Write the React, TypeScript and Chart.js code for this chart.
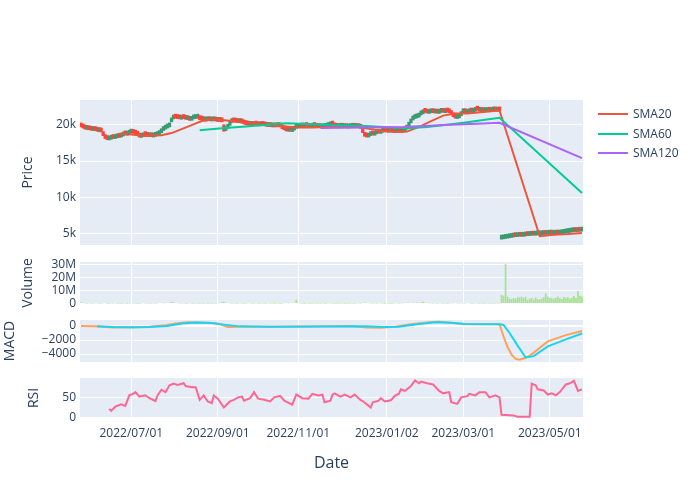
import React, { useEffect, useRef } from "react";
import { Chart, registerables } from "chart.js";
Chart.register(...registerables);

// ---------------- DATA ----------------
const N = 250;
const tickIdx = [25, 68, 108, 152, 190, 233];
const tickLabels = ["2022/07/01", "2022/09/01", "2022/11/01", "2023/01/02", "2023/03/01", "2023/05/01"];

const openP = [
  19850, 19700, 19550, 19350, 19450, 19300, 19200, 19350, 19250, 19050,
  19150, 19000, 18500, 18150, 17900, 18000, 18200, 18100, 18200, 18350,
  18300, 18450, 18700, 18550, 18700, 18850, 19050, 18850, 18700, 18550,
  18250, 18350, 18600, 18550, 18350, 18500, 18300, 18400, 18500, 18650,
  18900, 19200, 19400, 19550, 19700, 20400, 20800, 21050, 20950, 20900,
  20750, 20950, 20850, 20700, 20800, 20600, 20800, 20850, 20900, 21000,
  20750, 20700, 20500, 20550, 20750, 20500, 20550, 20700, 20450, 20600,
  20500, 20000, 19200, 19500, 19900, 20300, 20500, 20450, 20400, 20300,
  20450, 20250, 20150, 20050, 19900, 20050, 19850, 20050, 19950, 19850,
  20000, 19950, 19900, 19750, 19900, 19700, 19850, 19700, 19850, 19800,
  19700, 19500, 19350, 19100, 19250, 19050, 19250, 19500, 19600, 19650,
  19800, 19650, 19850, 19800, 19600, 19650, 19850, 19800, 19600, 19700,
  19550, 19600, 19650, 19750, 19850, 20050, 19950, 19750, 19600, 19650,
  19800, 19600, 19700, 19550, 19600, 19650, 19800, 19600, 19700, 19650,
  19450, 18900, 18500, 18300, 18500, 18700, 18550, 18750, 18950, 18800,
  18950, 19150, 19100, 18950, 19150, 19050, 18900, 18950, 19150, 19100,
  18950, 19150, 19400, 19800, 20250, 20650, 20850, 20950, 21050, 21350,
  21500, 22050, 21750, 21550, 21650, 21850, 21600, 21750, 21550, 21700,
  21850, 21650, 21850, 21800, 21700, 21450, 21150, 20850, 20950, 21250,
  21650, 21800, 21550, 21650, 21850, 21700, 21850, 22350, 22050, 21800,
  21950, 21800, 21800, 21950, 21800, 21900, 22050, 21850, 22000, 4250,
  4300, 4350, 4400, 4450, 4500, 4550, 4650, 4600, 4650, 4700,
  4650, 4700, 4800, 4750, 4800, 4850, 4800, 4850, 4900, 4850,
  4900, 4950, 4900, 4950, 5000, 4900, 4950, 5000, 4950, 5000,
  5050, 5100, 5150, 5200, 5250, 5300, 5400, 5300, 5400, 5350,
];

const closeP = [
  19700, 19550, 19400, 19450, 19300, 19250, 19350, 19200, 19100, 19150,
  19000, 18500, 18100, 17950, 18050, 18150, 18100, 18250, 18300, 18250,
  18500, 18650, 18600, 18750, 18900, 19050, 18800, 18700, 18550, 18300,
  18400, 18550, 18500, 18400, 18450, 18350, 18400, 18550, 18650, 18900,
  19200, 19400, 19600, 19750, 19950, 20850, 21000, 20900, 20850, 20800,
  20900, 20850, 20750, 20800, 20600, 20850, 20900, 20950, 21050, 20700,
  20650, 20550, 20600, 20700, 20550, 20600, 20650, 20500, 20600, 20450,
  20400, 19100, 19500, 19900, 20300, 20450, 20400, 20350, 20300, 20450,
  20250, 20100, 20000, 19950, 20050, 19900, 20000, 19950, 19850, 20000,
  19900, 19850, 19800, 19900, 19750, 19800, 19700, 19850, 19750, 19700,
  19450, 19300, 19150, 19250, 19100, 19200, 19500, 19650, 19700, 19750,
  19700, 19800, 19750, 19650, 19700, 19800, 19750, 19650, 19700, 19600,
  19650, 19700, 19750, 19900, 20000, 19950, 19700, 19650, 19700, 19750,
  19650, 19700, 19600, 19650, 19700, 19750, 19650, 19700, 19600, 19500,
  18900, 18400, 18300, 18550, 18650, 18600, 18800, 18900, 18850, 19000,
  19100, 19050, 19000, 19100, 19050, 18950, 19000, 19100, 19050, 19000,
  19150, 19400, 19800, 20300, 20700, 20900, 21000, 21100, 21400, 21600,
  22000, 21700, 21600, 21700, 21800, 21650, 21700, 21600, 21750, 21850,
  21700, 21800, 21750, 21650, 21400, 21100, 20900, 21000, 21300, 21700,
  21750, 21650, 21700, 21800, 21750, 21900, 22300, 22000, 21850, 21900,
  21800, 21950, 21900, 21850, 21950, 22000, 21900, 21950, 21900, 4300,
  4350, 4400, 4450, 4500, 4550, 4600, 4600, 4650, 4700, 4650,
  4700, 4750, 4750, 4800, 4850, 4800, 4850, 4900, 4850, 4900,
  4950, 4900, 4950, 5000, 4950, 4950, 5000, 4950, 5000, 5050,
  5100, 5150, 5200, 5250, 5300, 5350, 5300, 5400, 5350, 5400,
];

// volume in millions
const volumeM = [
  1.3, 0.6, 0.5, 0.4, 0.5, 0.3, 0.4, 0.6, 0.5, 0.4, 0.3, 0.5, 0.7, 0.4, 0.3, 0.5, 0.4, 0.6, 0.3, 0.4,
  0.3, 0.4, 0.5, 0.3, 0.4, 0.6, 0.5, 0.4, 0.3, 0.3, 0.5, 0.7, 0.4, 0.6, 0.3, 0.4, 0.5, 0.3, 0.6, 0.8,
  0.7, 0.5, 0.9, 0.8, 1.0, 1.6, 1.2, 0.8, 0.6, 0.5, 0.4, 0.5, 0.3, 0.4, 0.6, 0.4, 0.3, 0.5, 0.4, 0.3,
  0.4, 0.3, 0.5, 0.3, 0.4, 0.3, 0.5, 0.4, 0.6, 0.8, 1.3, 1.6, 0.9, 0.7, 0.5, 0.4, 0.6, 0.3, 0.4, 0.5,
  0.3, 0.4, 0.3, 0.6, 0.5, 0.4, 0.3, 0.5, 0.4, 0.3, 0.5, 0.4, 0.3, 0.6, 0.4, 0.5, 0.3, 0.4, 0.5, 0.3,
  0.4, 0.6, 0.8, 0.5, 0.7, 0.6, 0.9, 3.2, 0.8, 0.5, 0.4, 0.3, 0.5, 0.4, 0.3, 0.4, 0.5, 0.3, 0.4, 0.3,
  0.5, 0.4, 0.3, 0.6, 0.5, 0.4, 0.3, 0.4, 0.3, 0.5, 0.4, 0.3, 0.4, 0.3, 0.5, 0.4, 0.3, 0.6, 0.5, 0.4,
  0.9, 1.0, 0.8, 0.6, 0.5, 0.4, 0.5, 0.4, 0.6, 0.5, 0.4, 0.3, 0.5, 0.4, 0.3, 0.4, 0.5, 0.6, 0.4, 0.5,
  0.5, 0.7, 0.9, 1.0, 0.8, 0.9, 0.7, 1.1, 0.8, 1.2, 1.6, 0.9, 0.7, 0.5, 0.6, 0.4, 0.5, 0.4, 0.6, 0.5,
  0.4, 0.5, 0.3, 0.4, 0.6, 0.5, 0.7, 0.5, 0.4, 0.6, 0.5, 0.4, 0.8, 0.5, 0.4, 0.3, 0.6, 0.4, 0.3, 0.4,
  0.3, 0.4, 0.5, 0.3, 0.4, 0.3, 0.5, 0.4, 0.3, 6.8,
  6.2, 30.0, 5.5, 4.2, 3.6, 4.5, 4.0, 5.2, 4.8, 5.4,
  4.6, 5.5, 3.2, 4.0, 4.4, 3.3, 4.8, 3.5, 3.4, 4.2,
  5.0, 8.0, 5.4, 4.8, 4.4, 4.0, 4.8, 5.6, 4.4, 3.8,
  5.2, 4.6, 5.0, 3.9, 4.7, 6.0, 4.5, 10.0, 6.2, 5.6,
];

// [trading-day index, value]
const sma20 = [
  [19, 18750], [25, 18650], [32, 18450], [40, 18550], [45, 18850], [50, 19400], [55, 19950],
  [60, 20500], [65, 20700], [70, 20650], [75, 20500], [82, 20250], [90, 20000], [100, 19800],
  [108, 19600], [115, 19600], [122, 19700], [130, 19750], [138, 19700], [144, 19400], [150, 19150],
  [158, 19000], [162, 19050], [168, 19700], [174, 20500], [180, 21250], [186, 21550], [192, 21550],
  [200, 21750], [208, 21950], [228, 4650], [235, 4850], [242, 4950], [249, 5100],
];
const sma60 = [
  [59, 19250], [70, 19500], [82, 19750], [95, 20050], [102, 20200], [112, 20100], [124, 19950],
  [140, 19850], [150, 19700], [162, 19500], [172, 19700], [182, 20000], [192, 20350], [200, 20650],
  [208, 20950], [249, 10600],
];
const sma120 = [
  [119, 19550], [140, 19600], [160, 19700], [180, 19950], [200, 20150], [208, 20270], [249, 15400],
];

const macdLine = [
  [0, 0], [7, -50], [16, -200], [25, -150], [34, -100], [42, 100], [47, 350], [53, 550], [60, 450],
  [68, 350], [73, -150], [79, -100], [94, -100], [108, -80], [123, -50], [134, 0], [142, -200],
  [149, -250], [156, -100], [164, 250], [173, 550], [178, 600], [186, 400], [191, 250], [208, 250],
  [209, -600], [210, -1500], [212, -3000], [214, -4100], [216, -4700], [218, -4800], [220, -4650],
  [223, -4250], [232, -2200], [241, -1300], [249, -720],
];
const signalLine = [
  [8, -50], [16, -150], [25, -200], [34, -150], [43, 0], [50, 350], [57, 500], [64, 450], [71, 200],
  [79, -50], [94, -100], [123, -80], [142, -50], [151, -150], [158, -100], [167, 250], [176, 550],
  [184, 450], [191, 300], [208, 250], [210, 150], [213, -1000], [217, -2800], [221, -4500],
  [225, -4300], [232, -2900], [241, -1900], [249, -1060],
];

const rsi = [
  [14, 22.5], [15, 17.5], [17, 28], [20, 34], [22, 30], [24, 56], [26, 60], [27, 64], [29, 53],
  [32, 56], [34, 49], [37, 42], [38, 56], [40, 70], [42, 64], [44, 81], [46, 85], [48, 82], [51, 86],
  [52, 79], [55, 76], [57, 76], [59, 45], [61, 56], [63, 41], [65, 37], [66, 56], [68, 48], [71, 26],
  [74, 41], [76, 45], [78, 51], [80, 53], [81, 43], [84, 49], [86, 64], [88, 48], [91, 45], [94, 41],
  [96, 51], [99, 55], [101, 43], [105, 33], [107, 58], [110, 49], [113, 48], [115, 60], [118, 56],
  [120, 58], [121, 39], [124, 43], [125, 58], [126, 61], [129, 53], [131, 58], [134, 51], [136, 58],
  [139, 44], [140, 42], [143, 30], [144, 26], [145, 39], [148, 43], [149, 49], [151, 41], [154, 44],
  [156, 55], [158, 60], [159, 71], [161, 67], [164, 79], [166, 93], [168, 86], [169, 90], [172, 86],
  [175, 83], [178, 67], [180, 61], [183, 64], [184, 39], [187, 35], [189, 51], [192, 54], [193, 60],
  [196, 56], [198, 64], [201, 64], [203, 51], [206, 56], [208, 51], [209, 8], [215, 6], [217, 3],
  [223, 3], [224, 85], [226, 81], [227, 71], [230, 68], [232, 58], [234, 61], [236, 56], [238, 64],
  [241, 83], [243, 86], [245, 92], [247, 67], [249, 71],
];

const legendItems = [
  { name: "SMA20", color: "#EF553B" },
  { name: "SMA60", color: "#00CC96" },
  { name: "SMA120", color: "#AB63FA" },
];

// ---------------- STYLE ----------------
const FONT = '"Open Sans", verdana, arial, sans-serif';
const TXT = "#2a3f5f";
const BG = "#E5ECF6";
const PLOT_LEFT = 80;
const PLOT_RIGHT = 583;
const W = 700;
const INC = "#3D9970";
const DEC = "#FF4136";
const PAD = 20; // extra canvas room above/below each plot area

const bgPlugin = {
  id: "plotBg",
  beforeDraw(chart: any) {
    const { ctx, chartArea: a } = chart;
    ctx.save();
    ctx.fillStyle = BG;
    ctx.fillRect(a.left, a.top, a.right - a.left, a.bottom - a.top);
    ctx.restore();
  },
};

const pts = (arr: number[][]) => arr.map(([x, y]) => ({ x, y }));

function xAxis(showLabels: boolean) {
  return {
    type: "linear",
    min: -0.5,
    max: N - 0.5,
    offset: false,
    bounds: "ticks",
    afterBuildTicks: (s: any) => {
      s.ticks = tickIdx.map((v) => ({ value: v }));
    },
    ticks: {
      display: showLabels,
      autoSkip: false,
      maxRotation: 0,
      minRotation: 0,
      padding: 8,
      font: { family: FONT, size: 12 },
      color: TXT,
      callback: (v: any) => {
        const i = tickIdx.indexOf(v);
        return i >= 0 ? tickLabels[i] : "";
      },
    },
    grid: { color: "#ffffff", lineWidth: 1, drawTicks: false, offset: false },
    border: { display: false },
    title: showLabels
      ? { display: true, text: "Date", font: { family: FONT, size: 16 }, color: TXT, padding: { top: 0, bottom: 27 } }
      : { display: false },
    afterFit: (s: any) => {
      s.height = showLabels ? 82 : 0;
      s.paddingLeft = 0;
      s.paddingRight = 0;
    },
  };
}

function yAxis(o: { min: number; max: number; ticks: number[]; fmt: (v: number) => string; title: string; width: number; zero?: boolean }) {
  return {
    type: "linear",
    min: o.min,
    max: o.max,
    afterBuildTicks: (s: any) => {
      s.ticks = o.ticks.map((v) => ({ value: v }));
    },
    ticks: {
      autoSkip: false,
      padding: 4,
      font: { family: FONT, size: 12 },
      color: TXT,
      callback: (v: any) => o.fmt(v),
    },
    grid: {
      color: "#ffffff",
      lineWidth: (c: any) => (o.zero && c.tick && c.tick.value === 0 ? 2 : 1),
      drawTicks: false,
    },
    border: { display: false },
    title: { display: true, text: o.title, font: { family: FONT, size: 14 }, color: TXT, padding: { top: 0, bottom: 0 } },
    afterFit: (s: any) => {
      s.width = o.width;
      s.paddingTop = 0;
      s.paddingBottom = 0;
    },
  };
}

function baseOpts(padLeft: number, padBottom: number) {
  return {
    animation: false,
    responsive: false,
    devicePixelRatio: 1,
    events: [],
    layout: { padding: { left: padLeft, right: W - PLOT_RIGHT, top: PAD, bottom: padBottom } },
    plugins: { legend: { display: false }, tooltip: { enabled: false } },
  };
}

const minus = (v: number) => (v < 0 ? "\u2212" + Math.abs(v) : String(v));

export default function App() {
  const priceRef = useRef<HTMLCanvasElement>(null);
  const volRef = useRef<HTMLCanvasElement>(null);
  const macdRef = useRef<HTMLCanvasElement>(null);
  const rsiRef = useRef<HTMLCanvasElement>(null);

  useEffect(() => {
    Chart.defaults.font.family = FONT;
    const charts: Chart[] = [];

    // Price
    {
      const L = 20;
      charts.push(
        new Chart(priceRef.current as HTMLCanvasElement, {
          type: "bar",
          data: {
            datasets: [
              {
                type: "bar",
                data: closeP.map((c, i) => ({ x: i, y: [openP[i], c] })) as any,
                backgroundColor: closeP.map((c, i) => (c >= openP[i] ? INC : DEC)),
                barThickness: 2.6,
                minBarLength: 4,
                order: 4,
              } as any,
              { type: "line", data: pts(sma20) as any, borderColor: "#EF553B", borderWidth: 2, pointRadius: 0, order: 3 } as any,
              { type: "line", data: pts(sma60) as any, borderColor: "#00CC96", borderWidth: 2, pointRadius: 0, order: 2 } as any,
              { type: "line", data: pts(sma120) as any, borderColor: "#AB63FA", borderWidth: 2, pointRadius: 0, order: 1 } as any,
            ],
          },
          options: {
            ...baseOpts(L, PAD),
            scales: {
              x: xAxis(false),
              y: yAxis({ min: 3450, max: 23400, ticks: [5000, 10000, 15000, 20000], fmt: (v) => v / 1000 + "k", title: "Price", width: PLOT_LEFT - L }),
            },
          } as any,
          plugins: [bgPlugin],
        })
      );
    }

    // Volume
    {
      const L = 20;
      charts.push(
        new Chart(volRef.current as HTMLCanvasElement, {
          type: "bar",
          data: {
            datasets: [
              {
                data: volumeM.map((v, i) => ({ x: i, y: v })) as any,
                backgroundColor: "rgb(165,228,140)",
                barPercentage: 0.85,
                categoryPercentage: 1,
              } as any,
            ],
          },
          options: {
            ...baseOpts(L, PAD),
            scales: {
              x: xAxis(false),
              y: yAxis({ min: 0, max: 31.6, ticks: [0, 10, 20, 30], fmt: (v) => (v === 0 ? "0" : v + "M"), title: "Volume", width: PLOT_LEFT - L, zero: true }),
            },
          } as any,
          plugins: [bgPlugin],
        })
      );
    }

    // MACD
    {
      const L = 2;
      charts.push(
        new Chart(macdRef.current as HTMLCanvasElement, {
          type: "line",
          data: {
            datasets: [
              { data: pts(macdLine) as any, borderColor: "#FFA15A", borderWidth: 2, pointRadius: 0, order: 2 } as any,
              { data: pts(signalLine) as any, borderColor: "#19D3F3", borderWidth: 2, pointRadius: 0, order: 1 } as any,
            ],
          },
          options: {
            ...baseOpts(L, PAD),
            scales: {
              x: xAxis(false),
              y: yAxis({ min: -5140, max: 860, ticks: [-4000, -2000, 0], fmt: minus, title: "MACD", width: PLOT_LEFT - L, zero: true }),
            },
          } as any,
          plugins: [bgPlugin],
        })
      );
    }

    // RSI
    {
      const L = 26;
      charts.push(
        new Chart(rsiRef.current as HTMLCanvasElement, {
          type: "line",
          data: {
            datasets: [{ data: pts(rsi) as any, borderColor: "#FF6692", borderWidth: 2, pointRadius: 0 } as any],
          },
          options: {
            ...baseOpts(L, 0),
            scales: {
              x: xAxis(true),
              y: yAxis({ min: 0, max: 99, ticks: [0, 50], fmt: (v) => String(v), title: "RSI", width: PLOT_LEFT - L, zero: true }),
            },
          } as any,
          plugins: [bgPlugin],
        })
      );
    }

    return () => charts.forEach((c) => c.destroy());
  }, []);

  const abs = (top: number): React.CSSProperties => ({ position: "absolute", left: 0, top });

  return (
    <div style={{ position: "fixed", left: 0, top: 0, width: 700, height: 500, background: "#ffffff", overflow: "hidden" }}>
      <canvas ref={priceRef} width={700} height={145 + 2 * PAD} style={abs(100 - PAD)} />
      <canvas ref={volRef} width={700} height={42 + 2 * PAD} style={abs(262 - PAD)} />
      <canvas ref={macdRef} width={700} height={42 + 2 * PAD} style={abs(320 - PAD)} />
      <canvas ref={rsiRef} width={700} height={40 + PAD + 82} style={abs(378 - PAD)} />
      {legendItems.map((it, i) => (
        <div key={it.name}>
          <div style={{ position: "absolute", left: 598, top: 113 + i * 19.5, width: 30, height: 2, background: it.color }} />
          <div
            style={{
              position: "absolute",
              left: 633,
              top: 106 + i * 19.5,
              lineHeight: "16px",
              fontSize: 12,
              fontFamily: FONT,
              color: TXT,
              whiteSpace: "nowrap",
            }}
          >
            {it.name}
          </div>
        </div>
      ))}
    </div>
  );
}
